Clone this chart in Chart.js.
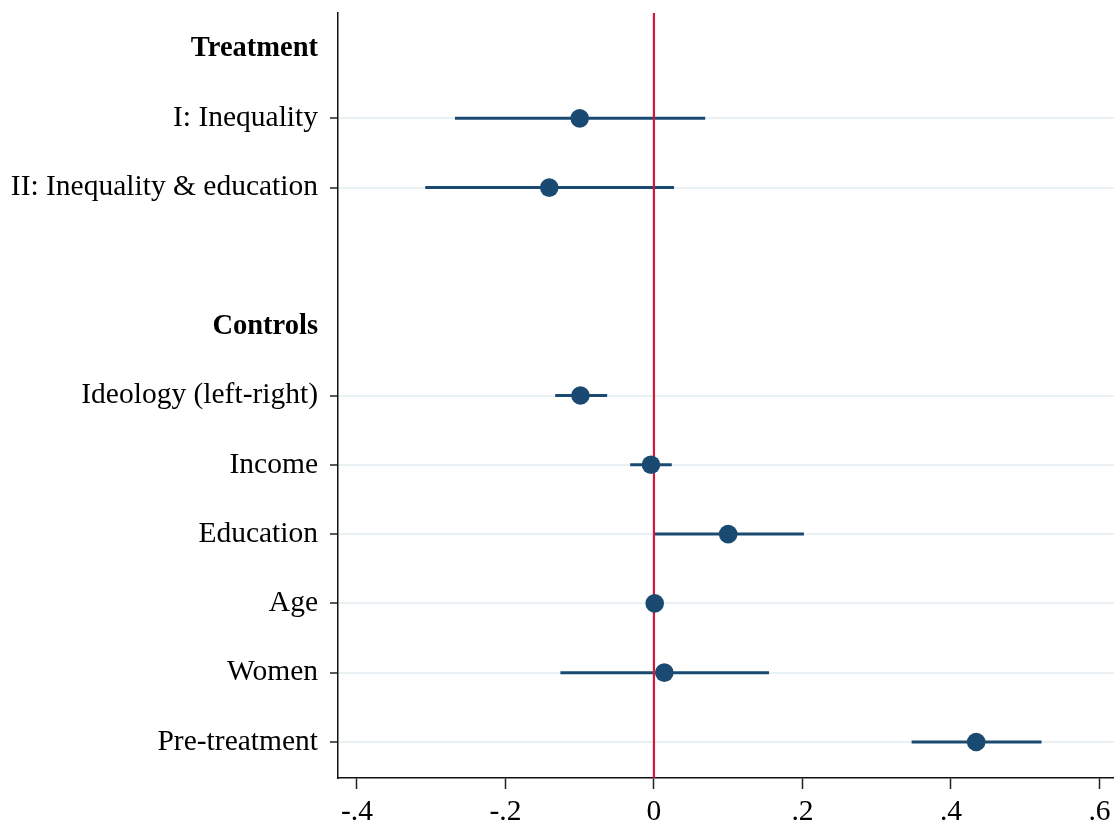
<!DOCTYPE html>
<html>
<head>
<meta charset="utf-8">
<script src="https://cdn.jsdelivr.net/npm/chart.js@4.4.1/dist/chart.umd.min.js"></script>
<style>
html,body{margin:0;padding:0;background:#fff;overflow:hidden;}
#wrap{width:1160px;height:850px;}
</style>
</head>
<body>
<div id="wrap"><canvas id="c" width="1160" height="850"></canvas></div>
<script>
// Row labels (top to bottom) and their row positions
const rowLabels = ['Treatment','I: Inequality','II: Inequality & education','Controls',
  'Ideology (left-right)','Income','Education','Age','Women','Pre-treatment'];
const rowPos = [0,1,2,4,5,6,7,8,9,10];
const headerRows = ['Treatment','Controls'];

// Estimates (coefficients) and 95% CI for each variable
const varNames = ['I: Inequality','II: Inequality & education','Ideology (left-right)','Income','Education','Age','Women','Pre-treatment'];
const varPos   = [1,2,5,6,7,8,9,10];
const estimate = [-0.100,-0.141,-0.099,-0.004,0.100,0.001,0.014,0.434];
const ciLow    = [-0.268,-0.308,-0.133,-0.032,0.000,-0.003,-0.126,0.347];
const ciHigh   = [0.069,0.027,-0.063,0.024,0.202,0.005,0.155,0.522];

// X axis ticks
const xTicks = [-0.4,-0.2,0,0.2,0.4,0.6];
const xMin = -0.4255, xMax = 0.669;
const yMin = -0.52, yMax = 10.52;
const refX = 0;

const navy = '#1a4a72';
const fontFam = '"Liberation Serif","Times New Roman",serif';
const fs = 29.5;
const fsBold = 28.5;

const datasets = [];
// reference line
datasets.push({type:'line', data:[{x:refX,y:yMin},{x:refX,y:yMax}], borderColor:'#d6163c',
  borderWidth:2.2, pointRadius:0, order:1});
// CI lines
varNames.forEach((n,i)=>{
  datasets.push({type:'line', data:[{x:ciLow[i],y:varPos[i]},{x:ciHigh[i],y:varPos[i]}],
    borderColor:navy, borderWidth:3, pointRadius:0, order:2});
});
// point estimates
datasets.push({type:'scatter', data:varNames.map((n,i)=>({x:estimate[i],y:varPos[i]})),
  backgroundColor:navy, borderColor:navy, pointRadius:9.3, pointBorderWidth:0, order:0});

function fmt(v){
  if (Math.abs(v)<1e-9) return '0';
  return (v<0?'-':'') + '.' + Math.round(Math.abs(v)*10);
}
function labelAt(v){
  const k = rowPos.findIndex(p=>Math.abs(p-v)<1e-6);
  return k>=0 ? rowLabels[k] : '';
}
function isHeader(v){ return headerRows.includes(labelAt(v)); }

new Chart(document.getElementById('c'), {
  data:{datasets},
  options:{
    responsive:false, animation:false, devicePixelRatio:1,
    layout:{padding:{top:13,left:0,right:0,bottom:0}},
    plugins:{legend:{display:false}, tooltip:{enabled:false}},
    scales:{
      x:{type:'linear', min:xMin, max:xMax, offset:false,
        afterBuildTicks:s=>{s.ticks = xTicks.map(v=>({value:v}));},
        afterFit:s=>{s.height = 72; s.paddingLeft = 0; s.paddingRight = 0;},
        grid:{drawOnChartArea:false, drawTicks:true, tickLength:11, tickColor:'#222', tickWidth:1.5},
        border:{display:true, color:'#111', width:1.5},
        ticks:{callback:v=>fmt(v), color:'#000', font:{family:fontFam, size:fs}, padding:6, maxRotation:0, autoSkip:false}
      },
      y:{type:'linear', reverse:true, min:yMin, max:yMax,
        afterBuildTicks:s=>{s.ticks = rowPos.map(v=>({value:v}));},
        afterFit:s=>{s.width = 338; s.paddingTop = 0; s.paddingBottom = 0;},
        grid:{drawOnChartArea:true, drawTicks:true, tickLength:8,
          color:ctx=> (ctx.tick && isHeader(ctx.tick.value)) ? 'rgba(0,0,0,0)' : '#e9f1f4',
          lineWidth:2,
          tickColor:ctx=> (ctx.tick && isHeader(ctx.tick.value)) ? 'rgba(0,0,0,0)' : '#222',
          tickWidth:1.5},
        border:{display:true, color:'#111', width:1.5},
        ticks:{callback:v=>labelAt(v), color:'#000', padding:12, autoSkip:false,
          font:ctx=>{const h = ctx.tick && isHeader(ctx.tick.value);
            return {family:fontFam, size:h?fsBold:fs, weight:h?'bold':'normal'};}}
      }
    }
  }
});
</script>
</body>
</html>
